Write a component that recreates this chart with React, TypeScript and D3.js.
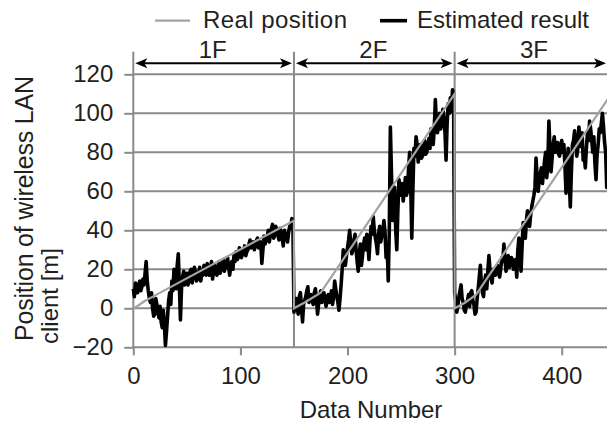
import React, { useRef, useEffect } from 'react';
import * as d3 from 'd3';

const W = 607;
const H = 425;
const FONT = 'Liberation Sans, Arial, Helvetica, sans-serif';

const FLOORS = ['1F', '2F', '3F'];
const FLOOR_START = [0, 150, 300];
const FLOOR_END = [150, 300, 450];

const Y_TICKS = [-20, 0, 20, 40, 60, 80, 100, 120];
const X_TICKS = [0, 100, 200, 300, 400];

// real position, [data number, metres]
const REAL_1F: [number, number][] = [[0, 0], [4, 1.2], [10, 3.5], [20, 6.5], [150, 45]];
const REAL_2F: [number, number][] = [[150, 0], [160, 3], [175, 8], [300, 110]];
const REAL_3F: [number, number][] = [[300, 0], [310, 3], [320, 7], [450, 113]];

// estimated result, one value per data number, starting at the floor start
const EST_1F = [
  10, 6, 13, 12, 8, 11, 14, 9, 11, 15,
  12, 18, 24, 14, 9, 5, 3, 8, 0, -4,
  -3, 5, 2, -2, -5, 1, -7, -10, -1, -8,
  -19, -12, -4, 4, 8, 2, 14, 9, 20, 13,
  10, 22, 28, 12, -6, 10, 16, 19, 12, 15,
  18, 12, 14, 19, 20, 13, 17, 21, 19, 14,
  15, 18, 21, 14, 18, 17, 22, 20, 17, 23,
  21, 17, 20, 24, 15, 20, 22, 18, 17, 21,
  24, 18, 20, 22, 25, 19, 21, 23, 26, 21,
  17, 22, 24, 20, 27, 24, 29, 25, 26, 31,
  30, 26, 28, 29, 32, 27, 29, 30, 33, 35,
  31, 33, 34, 30, 32, 35, 36, 31, 33, 34,
  23, 30, 37, 33, 35, 36, 40, 34, 38, 41,
  43, 36, 37, 42, 40, 38, 35, 41, 39, 36,
  32, 40, 38, 36, 34, 39, 42, 41, 46, 44,
];
const EST_2F = [
  -2, 3, 5, 0, -3, 6, 8, 1, -7, 2,
  4, 6, 9, 11, 3, 5, 7, 4, 2, 8,
  10, 5, -3, 2, 6, 9, 3, 5, 8, 4,
  1, 6, 7, 3, 4, 9, 2, 6, 14, 10,
  6, 3, -1, 5, 12, 20, 30, 25, 22, 27,
  31, 35, 40, 33, 28, 30, 35, 38, 30, 24,
  19, 28, 33, 22, 27, 33, 36, 30, 38, 33,
  25, 35, 42, 38, 47, 40, 36, 33, 28, 38,
  42, 34, 37, 40, 45, 39, 26, 33, 14, 40,
  93, 70, 45, 54, 62, 40, 30, 50, 66, 62,
  58, 64, 55, 60, 67, 58, 60, 72, 80, 64,
  36, 60, 82, 78, 88, 84, 75, 80, 84, 77,
  78, 83, 86, 79, 80, 84, 87, 82, 92, 88,
  84, 92, 107, 95, 90, 94, 100, 92, 96, 102,
  98, 90, 76, 95, 105, 100, 108, 101, 112, 110,
];
const EST_3F = [
  8, 4, -2, 1, 6, 9, 12, 5, 3, -1,
  -2, 2, 4, 7, 1, 8, 9, 4, 2, -3,
  -2, 5, 10, 16, 22, 12, 8, 6, 14, 17,
  10, 19, 27, 20, 15, 13, 20, 19, 17, 21,
  22, 18, 16, 20, 26, 24, 33, 25, 19, 23,
  27, 21, 22, 26, 25, 20, 24, 25, 16, 30,
  36, 28, 19, 32, 44, 40, 36, 45, 50, 43,
  42, 48, 52, 55, 58, 62, 77, 68, 60, 66,
  69, 72, 64, 70, 76, 80, 67, 74, 96, 82,
  70, 77, 84, 88, 80, 82, 85, 79, 78, 84,
  86, 80, 84, 73, 59, 70, 82, 66, 52, 70,
  84, 86, 91, 85, 78, 82, 93, 87, 83, 90,
  76, 79, 72, 82, 90, 86, 96, 92, 86, 80,
  88, 74, 66, 79, 84, 92, 90, 95, 100, 93,
  85, 80, 62, 72, 80, 78,
];

const LEGEND = ['Real position', 'Estimated result'];
const X_TITLE = 'Data Number';
const Y_TITLE = ['Position of wireless LAN', 'client [m]'];

const GRID = '#8a8a8a';
const REAL_COLOR = '#a3a3a3';
const TEXT = '#231f20';

const App = () => {
  const chartRef = useRef<SVGSVGElement>(null);

  useEffect(() => {
    const svg = d3.select(chartRef.current);
    svg.selectAll('*').remove();

    const x = d3.scaleLinear().domain([0, 450]).range([133.3, 615.3]);
    const y = d3.scaleLinear().domain([-20, 120]).range([347.3, 74.3]);
    const right = W;
    const lineTop = 51.7;

    // horizontal grid
    svg.append('g')
      .selectAll('line')
      .data(Y_TICKS)
      .enter().append('line')
      .attr('x1', x(0)).attr('x2', right)
      .attr('y1', d => y(d)).attr('y2', d => y(d))
      .attr('stroke', GRID).attr('stroke-width', 2);

    // floor separators
    svg.append('g')
      .selectAll('line')
      .data(FLOOR_START)
      .enter().append('line')
      .attr('x1', d => x(d)).attr('x2', d => x(d))
      .attr('y1', lineTop).attr('y2', y(-20))
      .attr('stroke', GRID).attr('stroke-width', 2);

    const yAxis = svg.append('g')
      .attr('transform', `translate(${x(0)},0)`)
      .call(d3.axisLeft(y).tickValues(Y_TICKS).tickSize(9).tickSizeOuter(0).tickPadding(11));
    const xAxis = svg.append('g')
      .attr('transform', `translate(0,${y(-20)})`)
      .call(d3.axisBottom(x).tickValues(X_TICKS).tickSize(8).tickSizeOuter(0).tickPadding(12));
    [yAxis, xAxis].forEach(a => {
      a.select('.domain').remove();
      a.selectAll('line').attr('stroke', GRID).attr('stroke-width', 2);
      a.selectAll('text')
        .attr('font-family', FONT).attr('font-size', 24).attr('fill', TEXT);
    });

    // lines
    const line = d3.line<[number, number]>()
      .x(d => x(d[0]))
      .y(d => y(d[1]));

    const real = [...REAL_1F, ...REAL_2F, ...REAL_3F];
    const est: [number, number][] = [];
    [EST_1F, EST_2F, EST_3F].forEach((vals, i) => {
      vals.forEach((v, j) => est.push([FLOOR_START[i] + j, v]));
    });

    svg.append('path')
      .attr('d', line(est))
      .attr('fill', 'none')
      .attr('stroke', '#000')
      .attr('stroke-width', 3.6)
      .attr('stroke-linejoin', 'round');

    svg.append('path')
      .attr('d', line(real))
      .attr('fill', 'none')
      .attr('stroke', REAL_COLOR)
      .attr('stroke-width', 2.2);

    // floor arrows
    const arrowY = 63.3;
    const head = 12;
    const half = 5;
    const arrows = svg.append('g');
    FLOORS.forEach((f, i) => {
      const x1 = x(FLOOR_START[i]) + 2;
      const x2 = Math.min(x(FLOOR_END[i]) - 2, right - 1);
      arrows.append('line')
        .attr('x1', x1 + 4).attr('x2', x2 - 4)
        .attr('y1', arrowY).attr('y2', arrowY)
        .attr('stroke', '#000').attr('stroke-width', 2);
      arrows.append('path')
        .attr('d', `M${x1},${arrowY}L${x1 + head},${arrowY - half}L${x1 + head - 3},${arrowY}L${x1 + head},${arrowY + half}Z`)
        .attr('fill', '#000');
      arrows.append('path')
        .attr('d', `M${x2},${arrowY}L${x2 - head},${arrowY - half}L${x2 - head + 3},${arrowY}L${x2 - head},${arrowY + half}Z`)
        .attr('fill', '#000');
      arrows.append('text')
        .attr('x', x((FLOOR_START[i] + FLOOR_END[i]) / 2) - 1)
        .attr('y', 58)
        .attr('text-anchor', 'middle')
        .attr('font-family', FONT).attr('font-size', 24).attr('fill', TEXT)
        .text(f);
    });

    // legend
    const legend = svg.append('g');
    legend.append('line')
      .attr('x1', 155).attr('x2', 190).attr('y1', 20.7).attr('y2', 20.7)
      .attr('stroke', REAL_COLOR).attr('stroke-width', 2.2);
    legend.append('text')
      .attr('x', 203).attr('y', 28)
      .attr('textLength', 144).attr('lengthAdjust', 'spacing')
      .attr('font-family', FONT).attr('font-size', 24).attr('fill', TEXT)
      .text(LEGEND[0]);
    legend.append('line')
      .attr('x1', 380).attr('x2', 407).attr('y1', 20.7).attr('y2', 20.7)
      .attr('stroke', '#000').attr('stroke-width', 3.6);
    legend.append('text')
      .attr('x', 417).attr('y', 28)
      .attr('textLength', 172).attr('lengthAdjust', 'spacing')
      .attr('font-family', FONT).attr('font-size', 24).attr('fill', TEXT)
      .text(LEGEND[1]);

    // titles
    svg.append('text')
      .attr('x', 371).attr('y', 418)
      .attr('text-anchor', 'middle')
      .attr('font-family', FONT).attr('font-size', 24).attr('fill', TEXT)
      .text(X_TITLE);

    Y_TITLE.forEach((t, i) => {
      const bx = i === 0 ? 33 : 58;
      const by = i === 0 ? 341 : 344;
      const txt = svg.append('text')
        .attr('transform', `translate(${bx},${by}) rotate(-90)`)
        .attr('text-anchor', 'start')
        .attr('font-family', FONT).attr('font-size', i === 0 ? 25 : 24).attr('fill', TEXT)
        .text(t);
      if (i === 0) txt.attr('textLength', 265).attr('lengthAdjust', 'spacing');
    });
  }, []);

  return (
    <svg
      ref={chartRef}
      width={W}
      height={H}
      style={{ position: 'absolute', left: 0, top: 0, background: '#fff' }}
    />
  );
};

export default App;
